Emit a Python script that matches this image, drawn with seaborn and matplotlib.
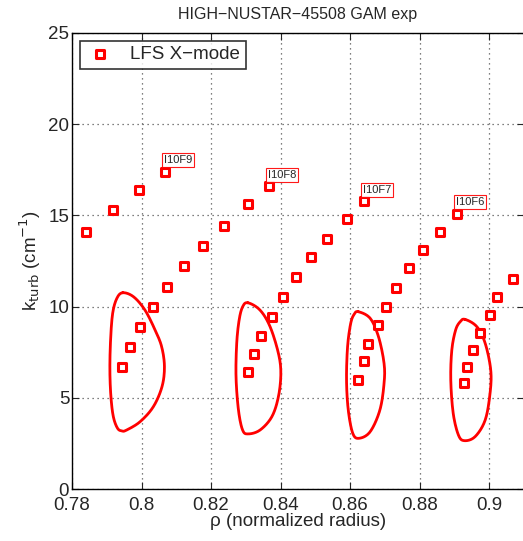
import seaborn as sns
import matplotlib.pyplot as plt
import matplotlib.ticker as ticker
import pandas as pd
import numpy as np

# measured points
rho = [0.7840, 0.7918, 0.7993, 0.8068,
       0.7944, 0.7967, 0.7996, 0.8033, 0.8073, 0.8122, 0.8177, 0.8237, 0.8306, 0.8367,
       0.8306, 0.8324, 0.8344, 0.8376, 0.8407, 0.8445, 0.8488, 0.8534, 0.8591, 0.8640,
       0.8623, 0.8640, 0.8652, 0.8681, 0.8704, 0.8732, 0.8770, 0.8810, 0.8859, 0.8908,
       0.8928, 0.8937, 0.8954, 0.8974, 0.9003, 0.9023, 0.9069]
k_turb = [14.1, 15.3, 16.4, 17.4,
          6.7, 7.8, 8.9, 10.0, 11.1, 12.2, 13.3, 14.4, 15.6, 16.6,
          6.4, 7.4, 8.4, 9.45, 10.5, 11.6, 12.7, 13.7, 14.8, 15.8,
          6.0, 7.0, 7.95, 9.0, 10.0, 11.0, 12.1, 13.1, 14.1, 15.1,
          5.8, 6.7, 7.6, 8.55, 9.55, 10.5, 11.5]

channel_names = ['I10F9', 'I10F8', 'I10F7', 'I10F6']
channel_idx = [3, 13, 23, 33]

# GAM regions (closed outlines)
loop1_rho = [0.7946, 0.7977, 0.8010, 0.8039, 0.8058, 0.8066, 0.8059, 0.8034, 0.7996,
             0.7957, 0.7944, 0.7931, 0.7919, 0.7912, 0.7909, 0.7911, 0.7917, 0.7929]
loop1_k = [10.76, 10.54, 9.81, 8.72, 7.80, 6.71, 5.61, 4.51, 3.69,
           3.23, 3.18, 3.33, 3.96, 5.06, 6.52, 8.17, 9.63, 10.45]
loop2_rho = [0.8306, 0.8341, 0.8370, 0.8394, 0.8401, 0.8394, 0.8375, 0.8341, 0.8307,
             0.8291, 0.8279, 0.8272, 0.8274, 0.8281, 0.8291]
loop2_k = [10.21, 9.81, 8.90, 7.44, 6.34, 5.06, 3.96, 3.23, 3.02,
           3.23, 4.33, 6.16, 7.99, 9.27, 9.99]
loop3_rho = [0.8624, 0.8658, 0.8682, 0.8698, 0.8698, 0.8686, 0.8658, 0.8626, 0.8608,
             0.8595, 0.8590, 0.8593, 0.8602, 0.8612]
loop3_k = [9.72, 9.36, 8.35, 6.89, 5.79, 4.33, 3.14, 2.78, 3.05,
           4.33, 5.98, 7.80, 9.08, 9.58]
loop4_rho = [0.8931, 0.8965, 0.8989, 0.9005, 0.9003, 0.8989, 0.8960, 0.8929, 0.8912,
             0.8897, 0.8890, 0.8893, 0.8904, 0.8917]
loop4_k = [9.30, 8.90, 7.99, 6.52, 5.24, 3.78, 2.87, 2.65, 2.96,
           4.15, 5.98, 7.62, 8.72, 9.17]


def smooth_closed(xs, ys, n=12):
    # closed catmull-rom curve through the outline knots, just for drawing
    p = np.column_stack([xs, ys])
    m = len(p)
    out = []
    t = np.linspace(0, 1, n, endpoint=False)[:, None]
    for i in range(m):
        p0, p1, p2, p3 = p[i - 1], p[i], p[(i + 1) % m], p[(i + 2) % m]
        seg = 0.5 * ((2 * p1) + (-p0 + p2) * t + (2 * p0 - 5 * p1 + 4 * p2 - p3) * t ** 2
                     + (-p0 + 3 * p1 - 3 * p2 + p3) * t ** 3)
        out.append(seg)
    out = np.vstack(out + [p[:1]])
    return out[:, 0], out[:, 1]


df = pd.DataFrame({'rho': rho, 'k': k_turb})

sns.set_style('ticks')
plt.rcParams['font.family'] = ['Liberation Sans', 'DejaVu Sans']

fig = plt.figure(figsize=(5.23, 5.41), dpi=100)
ax = fig.add_axes([72 / 523, 52 / 541, 452 / 523, 456 / 541])

for lx, ly in [(loop1_rho, loop1_k), (loop2_rho, loop2_k),
               (loop3_rho, loop3_k), (loop4_rho, loop4_k)]:
    sx, sy = smooth_closed(lx, ly)
    ax.plot(sx, sy, color='red', lw=2.0, solid_joinstyle='round')

sns.scatterplot(data=df, x='rho', y='k', ax=ax, marker='s', s=26,
                facecolor='white', edgecolor='red', linewidth=2.2,
                label='LFS X\u2212mode', zorder=3)

for name, i in zip(channel_names, channel_idx):
    ax.annotate(name, (rho[i], k_turb[i]), xytext=(-1, 4.5), textcoords='offset points',
                ha='left', va='bottom', fontsize=8,
                bbox=dict(boxstyle='square,pad=0.18', fc='white', ec='red', lw=0.8, alpha=0.9))

ax.set_xlim(0.78, 0.78 + 452 / 3475)
ax.set_ylim(0, 25)
ax.set_xticks([0.78, 0.80, 0.82, 0.84, 0.86, 0.88, 0.90])
ax.set_yticks([0, 5, 10, 15, 20, 25])
ax.xaxis.set_major_formatter(ticker.FuncFormatter(lambda v, p: '%g' % round(v, 2)))
ax.tick_params(direction='in', length=5, labelsize=13.5, top=True, right=True, width=0.8)
ax.tick_params(axis='x', pad=6)
ax.tick_params(axis='y', pad=2)
ax.grid(True, color='#555555', linewidth=0.9, dashes=(1, 3))
for s in ax.spines.values():
    s.set_linewidth(1.0)
    s.set_color('black')

ax.set_title('HIGH\u2212NUSTAR\u221245508 GAM exp', fontsize=11.5, pad=10)
ax.set_xlabel('\u03c1 (normalized radius)', fontsize=13.5, labelpad=-1)
ax.set_ylabel('k$_{\\rm turb}$ (cm$^{-1}$)', fontsize=13.5, labelpad=4)

leg = ax.legend(loc='upper left', fontsize=13.5, frameon=True, fancybox=False,
                borderaxespad=0.4, handletextpad=0.8, borderpad=0.3, handlelength=1.6)
leg.get_frame().set_edgecolor('black')
leg.get_frame().set_linewidth(1.2)

fig.savefig('out.png', dpi=100)
